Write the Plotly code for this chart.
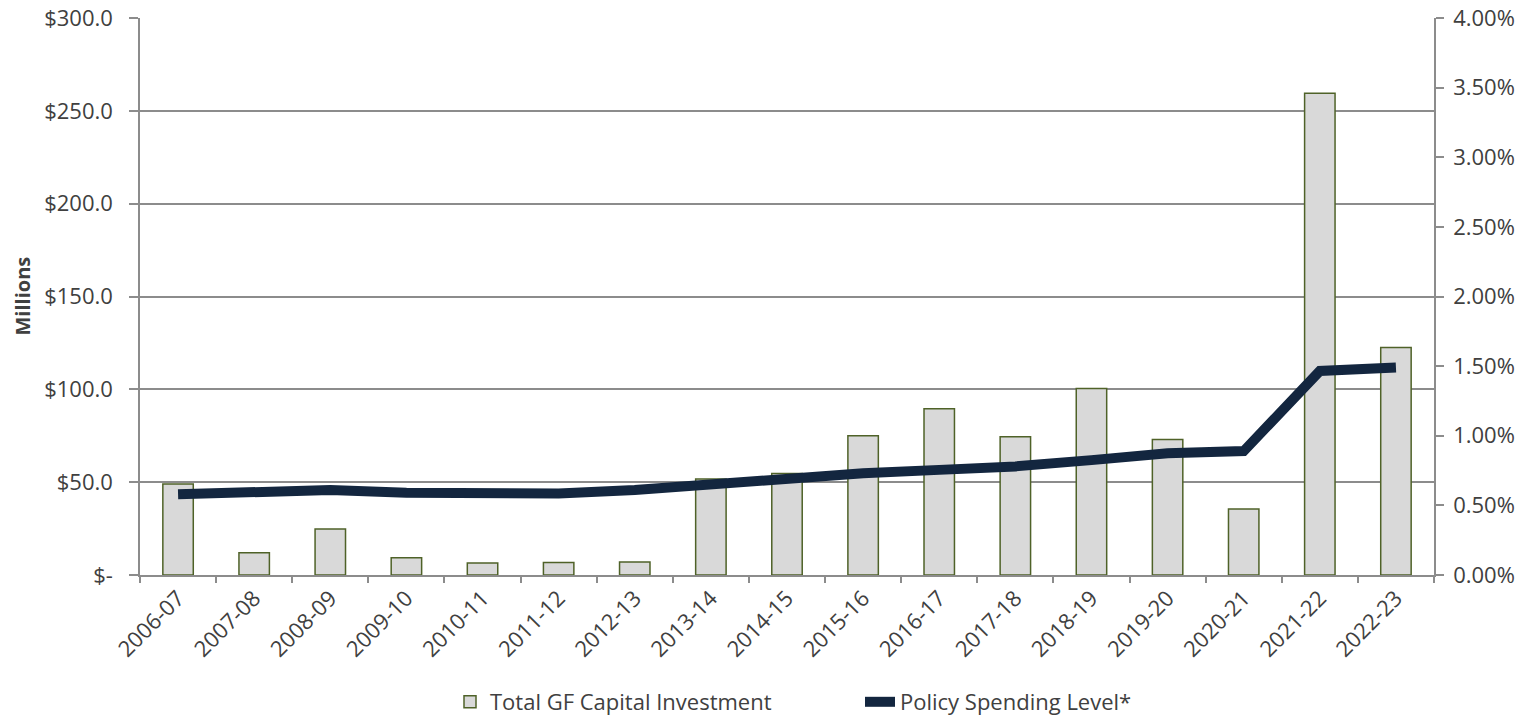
import plotly.graph_objects as go

years = ["2006-07", "2007-08", "2008-09", "2009-10", "2010-11", "2011-12", "2012-13",
         "2013-14", "2014-15", "2015-16", "2016-17", "2017-18", "2018-19", "2019-20",
         "2020-21", "2021-22", "2022-23"]
capital_investment = [49.0, 12.0, 24.8, 9.3, 6.5, 6.7, 7.0, 51.7, 54.7, 75.0, 89.5, 74.5,
                      100.5, 73.0, 35.5, 259.5, 122.5]
policy_level = [0.0058, 0.0059, 0.0061, 0.0059, 0.00585, 0.00585, 0.0061, 0.0065, 0.0070,
                0.0073, 0.00755, 0.0078, 0.00825, 0.00875, 0.0089, 0.01465, 0.0149]
left_tickvals = [0, 50, 100, 150, 200, 250, 300]
left_ticktext = ["$-", "$50.0", "$100.0", "$150.0", "$200.0", "$250.0", "$300.0"]
right_tickvals = [0, 0.005, 0.01, 0.015, 0.02, 0.025, 0.03, 0.035, 0.04]

FONT = "Open Sans"
GRID = "#8c8c8c"
TXT = "#404040"
FS = 22

fig = go.Figure()
fig.add_trace(go.Bar(
    x=years, y=capital_investment, name="Total GF Capital Investment",
    marker=dict(color="#d9d9d9", line=dict(color="#4f6228", width=1.5)),
    yaxis="y",
))
fig.add_trace(go.Scatter(
    x=years, y=policy_level, name="Policy Spending Level*", mode="lines",
    line=dict(color="#13263f", width=10),
    yaxis="y2",
))

fig.update_layout(
    width=1534, height=717,
    margin=dict(l=140, r=100, t=18, b=142),
    paper_bgcolor="white", plot_bgcolor="white",
    font=dict(family=FONT, size=FS, color=TXT),
    bargap=0.6,
    showlegend=True,
    legend=dict(orientation="h", x=(450 - 140) / 1294, xanchor="left",
                yref="container", y=(717 - 702) / 717, yanchor="middle",
                font=dict(size=FS, color=TXT), entrywidth=365, tracegroupgap=0),
    xaxis=dict(
        type="category", tickangle=-45, showline=True, linecolor=GRID, linewidth=1.5,
        ticks="outside", tickson="boundaries", ticklen=6, tickcolor=GRID, tickwidth=1.5,
        showgrid=False, tickfont=dict(size=FS, color=TXT), automargin=False,
    ),
    yaxis=dict(
        range=[0, 300], tickvals=left_tickvals, ticktext=left_ticktext,
        showline=True, linecolor=GRID, linewidth=1.5, showgrid=True, gridcolor=GRID,
        gridwidth=1.5, ticks="outside", ticklen=9, tickcolor=GRID, tickwidth=1.5,
        tickfont=dict(size=FS, color=TXT), zeroline=False, automargin=False,
        ticklabelstandoff=12,
    ),
    yaxis2=dict(
        range=[0, 0.04], tickvals=right_tickvals, tickformat=".2%", overlaying="y",
        side="right", showline=True, linecolor=GRID, linewidth=1.5, showgrid=False,
        ticks="outside", ticklen=8, tickcolor=GRID, tickwidth=1.5,
        tickfont=dict(size=FS, color=TXT), zeroline=False, automargin=False,
        ticklabelstandoff=5,
    ),
    annotations=[dict(
        text="<b>Millions</b>", textangle=-90, xref="paper", yref="paper",
        x=(22 - 140) / 1294, y=0.5, xanchor="center", yanchor="middle",
        showarrow=False, font=dict(size=20, color=TXT),
    )],
)

fig.write_html("out.html")
